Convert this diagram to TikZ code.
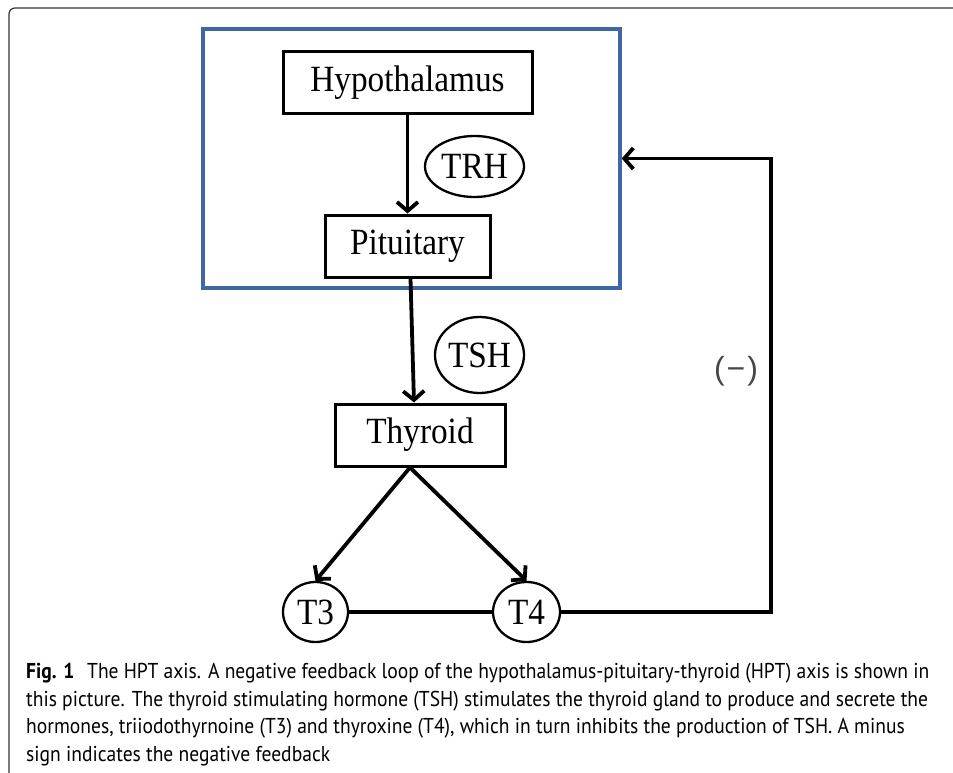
\documentclass[tikz,border=0pt]{standalone}
\usepackage{fontspec}
\setmainfont{Liberation Serif}[FakeStretch=0.9]
\newfontfamily\capfont{PT Sans}[FakeStretch=0.91]
\newfontfamily\signfont{Liberation Sans}
\usetikzlibrary{arrows.meta,shapes.geometric}
\definecolor{hptblue}{RGB}{62,104,163}
\tikzset{
	organ/.style={draw, line width=3pt, minimum width=#1, minimum height=62pt, inner sep=0pt},
	hormone/.style={draw, ellipse, line width=2.3pt, inner sep=0pt},
	flow/.style={line width=3.8pt, -{Straight Barb[length=9pt,width=21pt]}},
}

\begin{document}
\begin{tikzpicture}[x=1pt, y=-1pt, font=\fontsize{37}{40}\selectfont]
	\useasboundingbox (0,0) rectangle (953,773);
	\draw [line width=1.2pt, black!80, rounded corners=6pt] (9,773) -- (9,8) -- (953,8);
	\node [draw=hptblue, line width=3.6pt, minimum width=417pt, minimum height=259pt] (brain) at (411.5,158.5) {};
	\node [organ=249pt] (hyp) at (407.5,82.5) {Hypothalamus};
	\node [organ=165pt] (pit) at (407.5,246) {Pituitary};
	\node [organ=170pt] (thy) at (420,435) {Thyroid};
	\node [hormone, minimum width=99pt, minimum height=61pt] (trh) at (474.5,166.5) {TRH};
	\node [hormone, minimum width=89pt, minimum height=76pt] (tsh) at (479.5,355) {TSH};
	\node [hormone, minimum width=65pt, minimum height=60pt] (t3) at (315.5,612) {T3};
	\node [hormone, minimum width=67pt, minimum height=60pt] (t4) at (526.5,612) {T4};
	\coordinate (fbx) at (771,0);
	\draw [flow] (hyp) -- (pit);
	\draw [flow] ([xshift=3pt]pit.south) -- ([xshift=-6pt]thy.north);
	\draw [flow] ([xshift=-10pt]thy.south) -- (t3.north);
	\draw [flow] ([xshift=-10pt]thy.south) -- (t4.north);
	\draw [line width=3.8pt] (t3) -- (t4);
	\draw [flow] (t4.east) -- (t4.east -| fbx) -- (fbx |- brain.east) -- (brain.east);
	\node [font=\signfont\fontsize{32}{34}\selectfont, text=black!72] (minus) at (736,371) {(\hspace{2pt}−\hspace{2pt})};
	\node [anchor=north west, align=left, inner sep=0pt, font=\capfont\fontsize{21.5}{27.5}\selectfont] (cap) at (26,663)
		{\textbf{Fig. 1}\hspace{0.35em} The HPT axis. A negative feedback loop of the hypothalamus-pituitary-thyroid (HPT) axis is shown in\\
		this picture. The thyroid stimulating hormone (TSH) stimulates the thyroid gland to produce and secrete the\\
		hormones, triiodothyrnoine (T3) and thyroxine (T4), which in turn inhibits the production of TSH. A minus\\
		sign indicates the negative feedback};
\end{tikzpicture}
\end{document}
